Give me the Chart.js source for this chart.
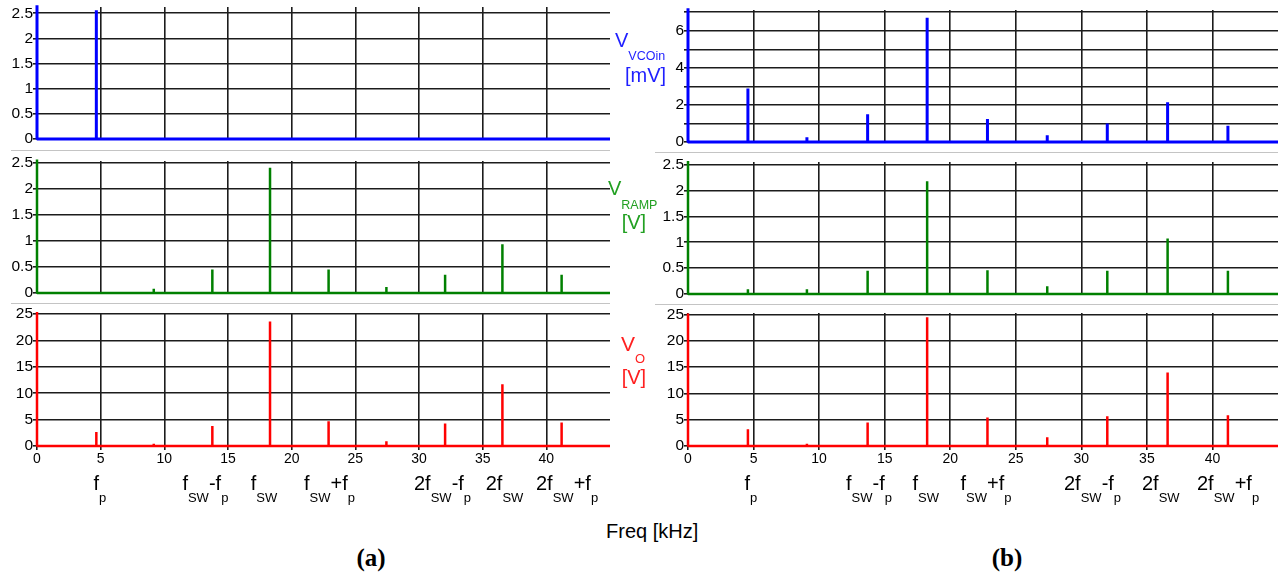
<!DOCTYPE html>
<html>
<head>
<meta charset="utf-8">
<script src="https://cdn.jsdelivr.net/npm/chart.js@4.4.1/dist/chart.umd.min.js"></script>
<style>
  body { margin:0; width:1283px; height:578px; background:#fff; position:relative; overflow:hidden;
         font-family:"Liberation Sans", Arial, sans-serif; }
  canvas { position:absolute; }
  .sep { position:absolute; height:0; border-top:1.5px solid #c4c4c4; }
  .txt { position:absolute; white-space:nowrap; line-height:1; }
</style>
</head>
<body>
<script>
// frequency axis (kHz)
const xMax = 45;
const xTicks = [0, 5, 10, 15, 20, 25, 30, 35, 40];

// spectral line positions (kHz): DC, fp, 2fp, fsw-fp, fsw, fsw+fp, fsw+2fp, 2fsw-fp, 2fsw, 2fsw+fp
const freqA = [0, 4.66, 9.17, 13.77, 18.3, 22.9, 27.44, 32.05, 36.55, 41.2];
const freqB = [0, 4.57, 9.07, 13.7, 18.24, 22.84, 27.4, 31.98, 36.58, 41.18];

// (a) amplitudes
const vcoA  = [2.66, 2.56, 0, 0, 0, 0, 0, 0, 0, 0];
const rampA = [2.57, 0, 0.08, 0.45, 2.41, 0.45, 0.115, 0.35, 0.94, 0.35];
const voA   = [25.4, 2.66, 0.45, 3.8, 23.6, 4.7, 0.9, 4.25, 11.7, 4.45];

// (b) amplitudes
const vcoB  = [7.21, 2.89, 0.25, 1.5, 6.7, 1.24, 0.36, 1.0, 2.15, 0.87];
const rampB = [2.57, 0.09, 0.09, 0.45, 2.18, 0.46, 0.15, 0.45, 1.07, 0.45];
const voB   = [25.2, 3.2, 0.45, 4.46, 24.5, 5.43, 1.66, 5.68, 13.97, 5.87];

// y ticks
const yTicksHalf  = [0, 0.5, 1, 1.5, 2, 2.5];
const yLabelsHalf = ['0', '0.5', '1', '1.5', '2', '2.5'];
const yTicksVo    = [0, 5, 10, 15, 20, 25];
const yLabelsVo   = ['0', '5', '10', '15', '20', '25'];
const yTicksVcoB  = [0, 1, 2, 3, 4, 5, 6, 7];
const yLabelsVcoB = ['0', '', '2', '', '4', '', '6', ''];

const gridColor = '#1c1c1c';
Chart.defaults.font.family = '"Liberation Sans", Arial, sans-serif';
Chart.defaults.color = '#000';

// spectrum as a polyline: floor at 0 with a vertical line at each component
function spectrum(freqs, vals) {
    const pts = [];
    freqs.forEach((f, i) => {
        pts.push({x: f, y: 0}, {x: f, y: vals[i]}, {x: f, y: 0});
    });
    pts.push({x: xMax, y: 0});
    return pts;
}

function panel(box, freqs, vals, color, lw, yMax, yTicks, yLabels, showX) {
    const cv = document.createElement('canvas');
    cv.width = box.w;
    cv.height = box.h;
    cv.style.left = box.x + 'px';
    cv.style.top = box.y + 'px';
    document.body.appendChild(cv);

    return new Chart(cv.getContext('2d'), {
        type: 'line',
        data: {
            datasets: [{
                data: spectrum(freqs, vals),
                borderColor: color,
                borderWidth: lw,
                pointRadius: 0,
                tension: 0,
                borderJoinStyle: 'bevel',
                clip: false
            }]
        },
        options: {
            responsive: false,
            animation: false,
            events: [],
            layout: { padding: { top: 10, right: 2, bottom: showX ? 12 : 10, left: 0 } },
            plugins: { legend: { display: false }, tooltip: { enabled: false } },
            scales: {
                x: {
                    type: 'linear', min: 0, max: xMax,
                    border: { display: false },
                    grid: { color: gridColor, lineWidth: 1.6, drawTicks: showX, tickLength: 4 },
                    afterBuildTicks: s => { s.ticks = xTicks.map(v => ({ value: v })); },
                    afterFit: s => { s.height = showX ? 25 : 0; },
                    ticks: { display: showX, autoSkip: false, maxRotation: 0, padding: 1,
                             font: { size: 14 }, callback: v => String(v) }
                },
                y: {
                    min: 0, max: yMax,
                    border: { display: false },
                    grid: { color: gridColor, lineWidth: 1.6, tickLength: 4 },
                    afterBuildTicks: s => { s.ticks = yTicks.map(v => ({ value: v })); },
                    afterFit: s => { s.width = box.yw; },
                    ticks: { autoSkip: false, padding: 0, font: { size: 15.5 },
                             callback: (v, i) => yLabels[i] }
                }
            }
        }
    });
}

const blue = '#0000ff', green = '#008000', red = '#ff0000';

// column (a)
panel({x: 0, y: -3,  w: 612, h: 152, yw: 37}, freqA, vcoA,  blue,  3,   2.625, yTicksHalf, yLabelsHalf, false);
panel({x: 0, y: 151, w: 612, h: 152, yw: 37}, freqA, rampA, green, 2.5, 2.54,  yTicksHalf, yLabelsHalf, false);
panel({x: 0, y: 303, w: 612, h: 180, yw: 37}, freqA, voA,   red,   2.5, 25.2,  yTicksVo,   yLabelsVo,   true);
// column (b)
panel({x: 645, y: 0,   w: 635, h: 152, yw: 43}, freqB, vcoB,  blue,  3,   7.12, yTicksVcoB, yLabelsVcoB, false);
panel({x: 645, y: 152, w: 635, h: 152, yw: 43}, freqB, rampB, green, 2.5, 2.55, yTicksHalf, yLabelsHalf, false);
panel({x: 645, y: 303, w: 635, h: 180, yw: 43}, freqB, voB,   red,   2.5, 25.3, yTicksVo,   yLabelsVo,   true);

// light separators between the stacked plots
[[11, 150, 599], [11, 303, 599], [655, 152, 623], [655, 304, 623]].forEach(([l, t, w]) => {
    const d = document.createElement('div');
    d.className = 'sep';
    d.style.left = l + 'px'; d.style.top = t + 'px'; d.style.width = w + 'px';
    document.body.appendChild(d);
});

// text placed by its baseline
function place(html, left, baseline, size, color, extra) {
    const d = document.createElement('div');
    d.className = 'txt';
    d.innerHTML = html;
    d.style.left = left + 'px';
    d.style.top = (baseline - 0.8465 * size) + 'px';
    d.style.fontSize = size + 'px';
    d.style.color = color;
    if (extra) Object.assign(d.style, extra);
    document.body.appendChild(d);
    return d;
}
const sub = (t, size, off) => `<span style="font-size:${size}px;vertical-align:-${off}px">${t}</span>`;

// signal names
place('V' + sub('VCOin', 12.5, 13), 615, 47, 20, '#1f1fff');
place('[mV]', 625, 82, 20, '#1f1fff');
place('V' + sub('RAMP', 12.5, 14), 608, 195, 20, '#22a022');
place('[V]', 621.7, 228.5, 20, '#22a022');
place('V' + sub('O', 13, 12), 621, 351, 21, '#ff2020');
place('[V]', 621.7, 384, 20, '#ff2020');

// harmonic names under the frequency axis
const harmLabels = [
    ['f', 'p'], ['f', 'SW', '-f', 'p'], ['f', 'SW'], ['f', 'SW', '+f', 'p'],
    ['2f', 'SW', '-f', 'p'], ['2f', 'SW'], ['2f', 'SW', '+f', 'p']
];
const harmLeftA = [93.4, 182.4, 250.8, 304, 414, 485.7, 536];
const harmLeftB = [744.5, 846, 912.5, 960.5, 1064, 1142, 1197];
function harmHtml(parts) {
    return parts.map((p, i) => i % 2 ? sub(p, 13, 11.5) : p).join('');
}
harmLabels.forEach((parts, i) => {
    place(harmHtml(parts), harmLeftA[i], 490, 20, '#000');
    place(harmHtml(parts), harmLeftB[i], 490, 20, '#000');
});

place('Freq [kHz]', 606, 537.5, 20, '#000');
const serif = { fontFamily: '"Liberation Serif", "Times New Roman", serif', fontWeight: 'bold', transform: 'translateX(-50%)' };
place('(a)', 371, 566, 25, '#000', serif);
place('(b)', 1007, 566, 25, '#000', serif);
</script>
</body>
</html>
